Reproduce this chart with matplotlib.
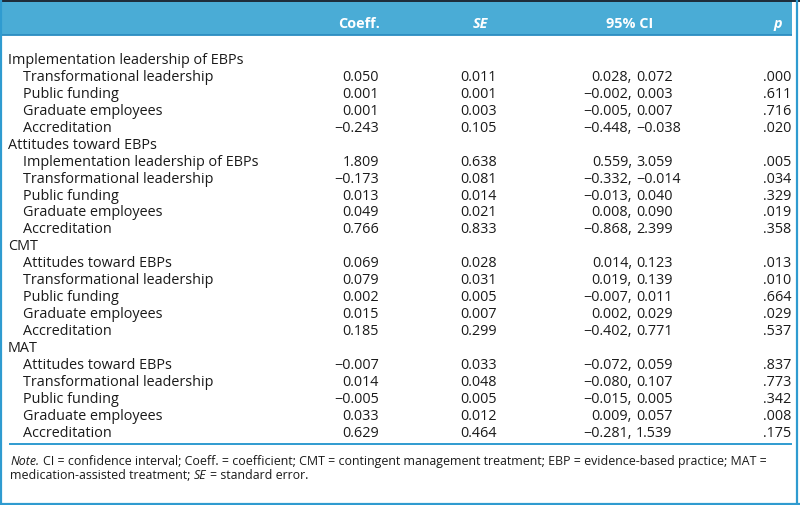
import matplotlib.pyplot as plt
from matplotlib.patches import Rectangle

plt.rcParams['font.family'] = ['Open Sans', 'DejaVu Sans']

# table data
outcomes = ["Implementation leadership of EBPs", "Attitudes toward EBPs", "CMT", "MAT"]
predictors = [
    ["Transformational leadership", "Public funding", "Graduate employees", "Accreditation"],
    ["Implementation leadership of EBPs", "Transformational leadership", "Public funding",
     "Graduate employees", "Accreditation"],
    ["Attitudes toward EBPs", "Transformational leadership", "Public funding",
     "Graduate employees", "Accreditation"],
    ["Attitudes toward EBPs", "Transformational leadership", "Public funding",
     "Graduate employees", "Accreditation"],
]
coef = [[0.050, 0.001, 0.001, -0.243],
        [1.809, -0.173, 0.013, 0.049, 0.766],
        [0.069, 0.079, 0.002, 0.015, 0.185],
        [-0.007, 0.014, -0.005, 0.033, 0.629]]
se = [[0.011, 0.001, 0.003, 0.105],
      [0.638, 0.081, 0.014, 0.021, 0.833],
      [0.028, 0.031, 0.005, 0.007, 0.299],
      [0.033, 0.048, 0.005, 0.012, 0.464]]
ci_lo = [[0.028, -0.002, -0.005, -0.448],
         [0.559, -0.332, -0.013, 0.008, -0.868],
         [0.014, 0.019, -0.007, 0.002, -0.402],
         [-0.072, -0.080, -0.015, 0.009, -0.281]]
ci_hi = [[0.072, 0.003, 0.007, -0.038],
         [3.059, -0.014, 0.040, 0.090, 2.399],
         [0.123, 0.139, 0.011, 0.029, 0.771],
         [0.059, 0.107, 0.005, 0.057, 1.539]]
p_val = [[0.000, 0.611, 0.716, 0.020],
         [0.005, 0.034, 0.329, 0.019, 0.358],
         [0.013, 0.010, 0.664, 0.029, 0.537],
         [0.837, 0.773, 0.342, 0.008, 0.175]]
headers = ["Coeff.", "SE", "95% CI", "p"]


def fmt(v):
    return f"{v:.3f}".replace("-", "\u2212")


def fmt_p(v):
    return f"{v:.3f}".lstrip("0")


blue = "#4aacd6"
line_blue = "#2f9bd0"
dark = "#1e2d3b"
txt = "#1a1a1a"
fs = 10.4
fs_note = 8.9

fig = plt.figure(figsize=(8, 5.06), dpi=100)
ax = fig.add_axes([0, 0, 1, 1])
ax.set_xlim(0, 800)
ax.set_ylim(506, 0)
ax.axis("off")

# header band and frame
ax.add_patch(Rectangle((2, 0), 790, 36, color=blue, lw=0))
ax.add_patch(Rectangle((0, 0), 800, 2.6, color=dark, lw=0))
ax.plot([2, 792], [36, 36], color="#2b8cc0", lw=1.3, solid_capstyle="butt")
ax.plot([1.2, 1.2], [0, 506], color=line_blue, lw=1.6)
ax.plot([796.8, 796.8], [0, 506], color=line_blue, lw=1.6)
ax.plot([0, 800], [504.6, 504.6], color=line_blue, lw=1.6)
ax.plot([10, 791], [445, 445], color=line_blue, lw=1.4)

# header text
hy = 27.5
ax.text(380, hy, headers[0], ha="right", va="baseline", color="white", fontsize=fs, weight="bold")
ax.text(480, hy, headers[1], ha="center", va="baseline", color="white", fontsize=fs,
        weight="bold", style="italic")
ax.text(630, hy, headers[2], ha="center", va="baseline", color="white", fontsize=fs, weight="bold")
ax.text(782, hy, headers[3], ha="right", va="baseline", color="white", fontsize=fs,
        weight="bold", style="italic")

# body rows
row = 0
step = 16.94
for g, name in enumerate(outcomes):
    y = 64 + step * row
    ax.text(8, y, name, ha="left", va="baseline", color=txt, fontsize=fs)
    row += 1
    for k, pred in enumerate(predictors[g]):
        y = 64 + step * row
        ax.text(23, y, pred, ha="left", va="baseline", color=txt, fontsize=fs)
        ax.text(379, y, fmt(coef[g][k]), ha="right", va="baseline", color=txt, fontsize=fs)
        ax.text(497, y, fmt(se[g][k]), ha="right", va="baseline", color=txt, fontsize=fs)
        ax.text(632, y, fmt(ci_lo[g][k]) + ",", ha="right", va="baseline", color=txt, fontsize=fs)
        ax.text(636, y, fmt(ci_hi[g][k]), ha="left", va="baseline", color=txt, fontsize=fs)
        ax.text(791, y, fmt_p(p_val[g][k]), ha="right", va="baseline", color=txt, fontsize=fs)
        row += 1

# note with mixed italic runs
renderer = fig.canvas.get_renderer()


def width_of(s, **kw):
    t = ax.text(0, 0, s, fontsize=fs_note, **kw)
    w = t.get_window_extent(renderer=renderer).width
    t.remove()
    return w


space_w = width_of("a a") - width_of("aa")


def run_text(x, y, parts):
    for s, style in parts:
        lead = len(s) - len(s.lstrip(" "))
        x += lead * space_w
        s = s.lstrip(" ")
        t = ax.text(x, y, s, ha="left", va="baseline", color=txt, fontsize=fs_note, style=style)
        x += t.get_window_extent(renderer=renderer).width


run_text(10.5, 465, [("Note.", "italic"),
                     (" CI = confidence interval; Coeff. = coefficient; CMT = contingent management "
                      "treatment; EBP = evidence-based practice; MAT =", "normal")])
run_text(10.5, 479.5, [("medication-assisted treatment;", "normal"), (" SE", "italic"),
                       (" = standard error.", "normal")])

fig.savefig("out.png", dpi=100)
